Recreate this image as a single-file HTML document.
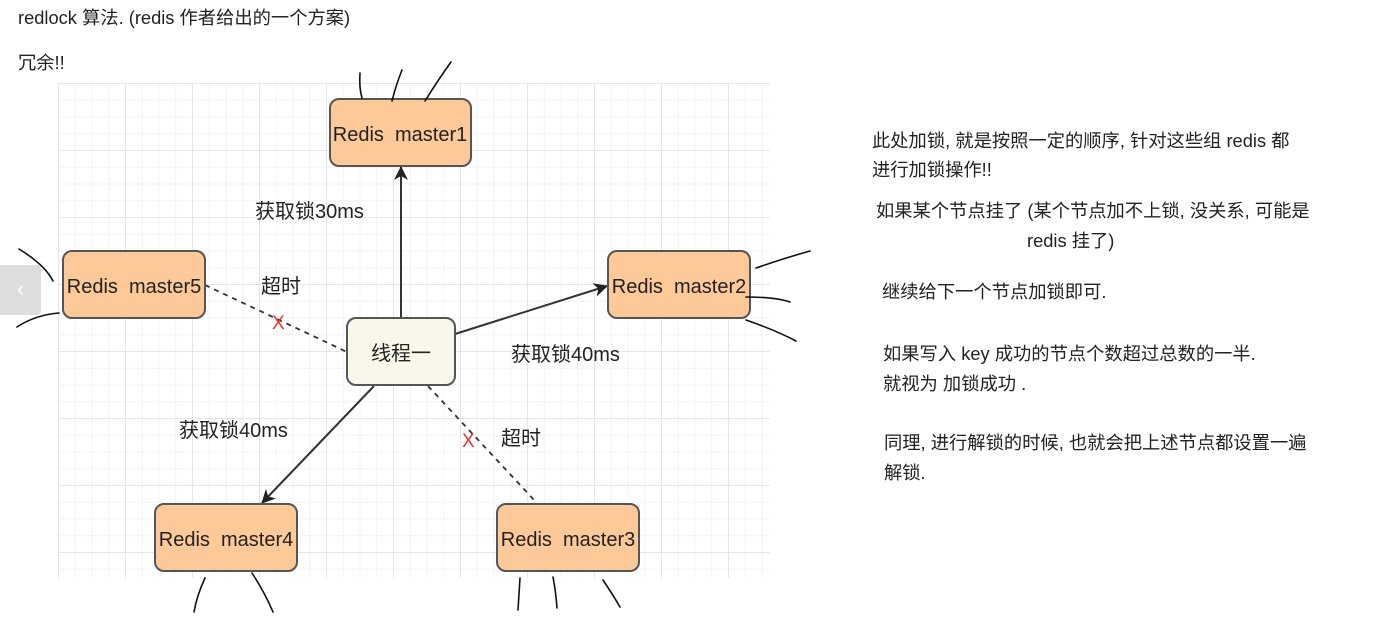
<!DOCTYPE html>
<html><head><meta charset="utf-8"><style>
body{margin:0;width:1382px;height:620px;background:#fff;overflow:hidden;position:relative;font-family:"Liberation Sans","Noto Sans CJK SC",sans-serif;color:#222}
.t{position:absolute;font-size:18.3px;white-space:nowrap}
.grid{position:absolute;left:58px;top:83px;width:712px;height:495px;
background-image:linear-gradient(#e6e6e6 1px,transparent 1px),linear-gradient(90deg,#e6e6e6 1px,transparent 1px),linear-gradient(#f3f3f3 1px,transparent 1px),linear-gradient(90deg,#f3f3f3 1px,transparent 1px);
background-size:67px 67px,67px 67px,16.75px 16.75px,16.75px 16.75px}
</style></head><body>
<div class="t" style="left:18px;top:4px">redlock 算法. (redis 作者给出的一个方案)</div>
<div class="t" style="left:18px;top:49px">冗余!!</div>
<div class="grid"></div>
<div style="position:absolute;left:0;top:265px;width:41px;height:50px;background:#ddd;border-radius:0 4px 4px 0;color:#fff;font-size:22px;line-height:48px;text-align:center">‹</div>
<svg width="1382" height="620" style="position:absolute;left:0;top:0" font-family="Liberation Sans, Noto Sans CJK SC, sans-serif">
<defs><marker id="a" markerWidth="14" markerHeight="14" refX="13" refY="7" orient="auto" markerUnits="userSpaceOnUse"><path d="M0,0 L14,7 L0,14 L4,7z" fill="#222"/></marker></defs>
<g stroke="#333" stroke-width="2" fill="none">
<line x1="401" y1="318" x2="401" y2="167" marker-end="url(#a)"/>
<line x1="455" y1="334" x2="607" y2="286" marker-end="url(#a)"/>
<line x1="374" y1="386" x2="262" y2="503" marker-end="url(#a)"/>
<line x1="205" y1="285" x2="347" y2="352" stroke-dasharray="5,5" stroke-width="1.8"/>
<line x1="428" y1="386" x2="535" y2="501" stroke-dasharray="5,5" stroke-width="1.8"/>
</g>
<g fill="#fdc998" stroke="#555" stroke-width="2">
<rect x="330" y="99" width="141" height="67" rx="9"/>
<rect x="63" y="251" width="142" height="67" rx="9"/>
<rect x="608" y="251" width="142" height="67" rx="9"/>
<rect x="155" y="504" width="142" height="67" rx="9"/>
<rect x="497" y="504" width="142" height="67" rx="9"/>
<rect x="347" y="318" width="108" height="67" rx="9" fill="#f8f7ea"/>
</g>
<g font-size="20" fill="#222" text-anchor="middle">
<text x="400" y="141">Redis&#160; master1</text>
<text x="134" y="293">Redis&#160; master5</text>
<text x="679" y="293">Redis&#160; master2</text>
<text x="226" y="546">Redis&#160; master4</text>
<text x="568" y="546">Redis&#160; master3</text>
<text x="401" y="360" font-size="20">线程一</text>
</g>
<g font-size="20" fill="#222">
<text x="255" y="218">获取锁30ms</text>
<text x="261" y="293">超时</text>
<text x="511" y="361">获取锁40ms</text>
<text x="179" y="437">获取锁40ms</text>
<text x="501" y="445">超时</text>
</g>
<g fill="#e33" font-size="19"><text x="272" y="329">X</text><text x="462" y="447">X</text></g>
<g stroke="#111" stroke-width="1.6" fill="none" stroke-linecap="round">
<path d="M360,73 Q359,88 362,98"/><path d="M402,70 Q396,85 392,101"/><path d="M451,62 Q438,80 425,101"/>
<path d="M19,249 Q45,265 53,281"/><path d="M17,327 Q35,315 59,313"/>
<path d="M756,268 Q785,258 810,251"/><path d="M746,297 Q775,297 790,302"/><path d="M746,320 Q775,330 796,341"/>
<path d="M205,578 Q197,595 194,612"/><path d="M252,573 Q265,593 273,612"/>
<path d="M520,578 Q519,593 518,610"/><path d="M553,577 Q556,593 557,608"/><path d="M603,580 Q613,595 620,607"/>
</g>
</svg>
<div class="t" style="left:872px;top:126px;line-height:29px">此处加锁, 就是按照一定的顺序, 针对这些组 redis 都<br>进行加锁操作!!</div>
<div class="t" style="left:876px;top:197px">如果某个节点挂了 (某个节点加不上锁, 没关系, 可能是</div>
<div class="t" style="left:1027px;top:227px">redis 挂了)</div>
<div class="t" style="left:882px;top:278px">继续给下一个节点加锁即可.</div>
<div class="t" style="left:883px;top:339px;line-height:30px">如果写入 key 成功的节点个数超过总数的一半.<br>就视为 加锁成功 .</div>
<div class="t" style="left:884px;top:428px;line-height:30px">同理, 进行解锁的时候, 也就会把上述节点都设置一遍<br>解锁.</div>
</body></html>
